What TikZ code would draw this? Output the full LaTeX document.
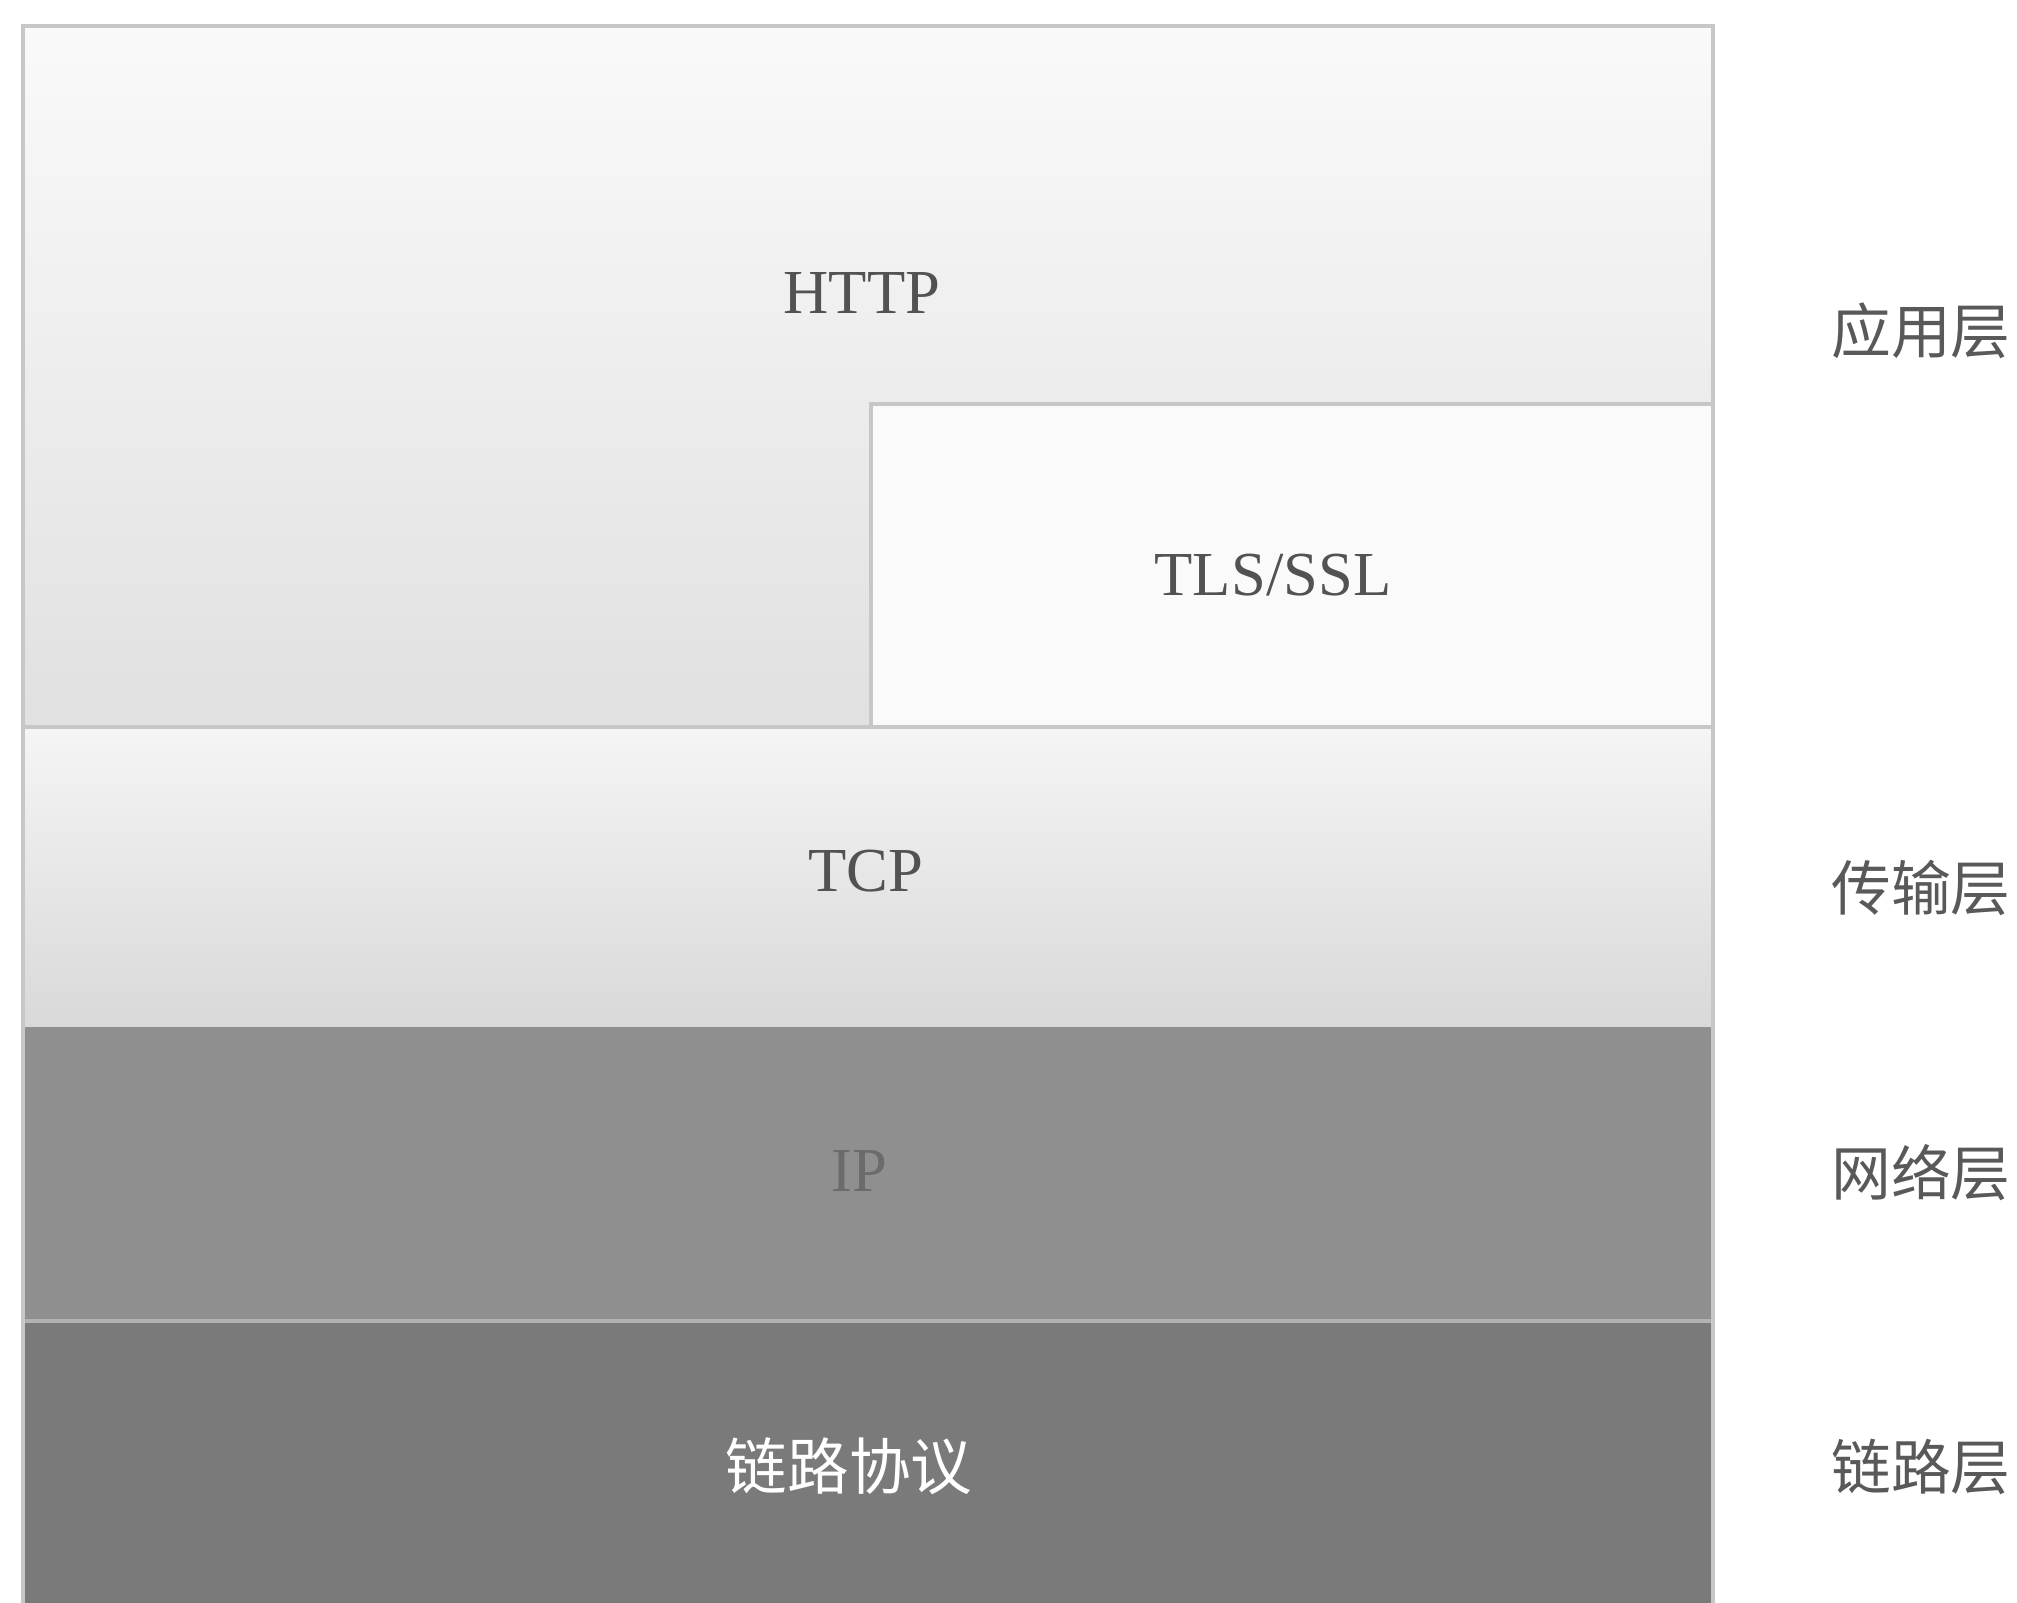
\documentclass[tikz,border=0pt]{standalone}
\usepackage{fontspec}
\setmainfont{Liberation Serif}
\newfontfamily\cjk{Noto Sans CJK SC}
\begin{document}
\begin{tikzpicture}[x=0.01cm,y=-0.01cm,
  proto/.style={font=\fontsize{17.8}{21}\selectfont, text=black!68, inner sep=0pt},
  layerlabel/.style={font=\cjk\fontsize{17}{20}\selectfont, text=black!65, inner sep=0pt},
  edge/.style={draw=black!22, line width=1.3pt}]
\useasboundingbox (0,0) rectangle (2017,1603);
\fill[white] (0,0) rectangle (2017,1603);
% HTTP region
\shade[top color=black!2, bottom color=black!12] (23,26) rectangle (1713,727);
% TLS/SSL box
\fill[black!2] (871,404) rectangle (1713,727);
\draw[edge] (871,727) -- (871,404) -- (1713,404);
% TCP region
\shade[top color=black!4, bottom color=black!15] (23,727) rectangle (1713,1027);
% IP region
\fill[black!44] (23,1027) rectangle (1713,1321);
% link region
\fill[black!52] (23,1321) rectangle (1713,1603);
\draw[black!30, line width=1.2pt] (23,1321) -- (1713,1321);
% frame
\draw[edge] (23,1603) -- (23,26) -- (1713,26) -- (1713,1603);
\draw[edge] (23,727) -- (1713,727);
% labels
\node[proto] (http) at (862,293) {HTTP};
\node[proto] (tls) at (1273,575) {TLS/SSL};
\node[proto] (tcp) at (866,871) {TCP};
\node[proto, text=black!58] (ip) at (859,1171) {IP};
\node[proto, font=\cjk\fontsize{17.5}{21}\selectfont, text=white] (link) at (849,1466) {链路协议};
\node[layerlabel] (app) at (1921,331) {应用层};
\node[layerlabel] (trans) at (1921,888) {传输层};
\node[layerlabel] (net) at (1921,1173) {网络层};
\node[layerlabel] (lnk) at (1921,1467) {链路层};
\end{tikzpicture}
\end{document}
